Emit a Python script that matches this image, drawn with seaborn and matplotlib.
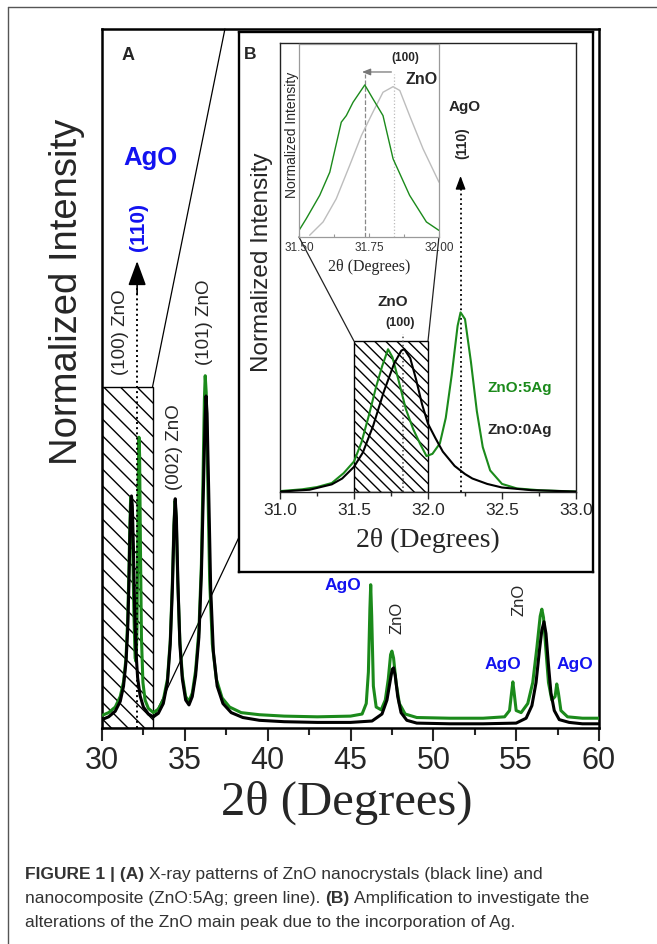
import matplotlib
matplotlib.use('Agg')
import matplotlib.pyplot as plt
import seaborn as sns
from matplotlib.patches import Rectangle
from matplotlib.lines import Line2D

# ---------------- data ----------------
# panel A, full pattern (2theta in degrees, normalized intensity)
a_theta_black = [30.0, 30.4, 30.8, 31.1, 31.3, 31.45, 31.55, 31.62, 31.68, 31.74, 31.78, 31.83, 31.9, 31.97,
                 32.05, 32.15, 32.3, 32.5, 32.8, 33.1, 33.4, 33.7, 33.95, 34.12, 34.25, 34.35, 34.42, 34.49,
                 34.58, 34.7, 34.85, 35.05, 35.25, 35.45, 35.65, 35.85, 36.0, 36.12, 36.22, 36.28, 36.34,
                 36.44, 36.56, 36.72, 36.95, 37.3, 37.8, 38.5, 39.5, 41.0, 43.0, 45.0, 46.3, 46.9, 47.2,
                 47.4, 47.52, 47.6, 47.7, 47.85, 48.05, 48.4, 49.0, 51.0, 53.0, 55.0, 55.6, 55.95, 56.2,
                 56.4, 56.55, 56.68, 56.8, 56.95, 57.1, 57.3, 57.6, 58.2, 59.0, 60.0]
a_int_black = [0.012, 0.016, 0.024, 0.038, 0.06, 0.095, 0.14, 0.2, 0.27, 0.318, 0.332, 0.318, 0.255, 0.17,
               0.11, 0.072, 0.046, 0.03, 0.02, 0.016, 0.021, 0.035, 0.065, 0.12, 0.2, 0.29, 0.328, 0.3,
               0.21, 0.12, 0.07, 0.04, 0.033, 0.045, 0.075, 0.13, 0.22, 0.34, 0.44, 0.475, 0.45,
               0.34, 0.2, 0.11, 0.06, 0.035, 0.022, 0.015, 0.011, 0.009, 0.008, 0.008, 0.01, 0.02, 0.04,
               0.068, 0.084, 0.086, 0.075, 0.045, 0.022, 0.011, 0.007, 0.006, 0.006, 0.007, 0.014, 0.032, 0.065,
               0.11, 0.14, 0.152, 0.135, 0.09, 0.05, 0.025, 0.012, 0.008, 0.006, 0.006]

a_theta_green = [30.0, 30.4, 30.8, 31.1, 31.3, 31.45, 31.55, 31.62, 31.68, 31.73, 31.78, 31.85, 31.93, 32.0,
                 32.06, 32.11, 32.16, 32.2, 32.23, 32.27, 32.32, 32.38, 32.47, 32.6, 32.8, 33.1, 33.4, 33.7,
                 33.95, 34.12, 34.25, 34.34, 34.41, 34.48, 34.57, 34.7, 34.85, 35.05, 35.25, 35.45, 35.65,
                 35.85, 36.0, 36.1, 36.18, 36.23, 36.29, 36.38, 36.5, 36.66, 36.9, 37.25, 37.7, 38.4, 39.5,
                 41.0, 43.0, 45.0, 45.7, 45.95, 46.08, 46.17, 46.22, 46.28, 46.38, 46.55, 46.85, 47.1, 47.28,
                 47.42, 47.5, 47.6, 47.75, 47.95, 48.3, 49.0, 51.0, 53.0, 54.3, 54.6, 54.72, 54.8, 54.88,
                 55.0, 55.3, 55.7, 56.0, 56.25, 56.45, 56.55, 56.65, 56.8, 56.95, 57.15, 57.35, 57.45, 57.55,
                 57.7, 58.1, 59.0, 60.0]
a_int_green = [0.018, 0.022, 0.03, 0.045, 0.066, 0.1, 0.155, 0.22, 0.29, 0.33, 0.322, 0.26, 0.16, 0.1,
               0.095, 0.14, 0.27, 0.38, 0.416, 0.39, 0.26, 0.13, 0.065, 0.04, 0.028, 0.022, 0.027, 0.04,
               0.07, 0.125, 0.21, 0.29, 0.325, 0.3, 0.21, 0.125, 0.075, 0.045, 0.038, 0.05, 0.082,
               0.14, 0.235, 0.36, 0.47, 0.504, 0.48, 0.36, 0.21, 0.12, 0.07, 0.043, 0.03, 0.022, 0.019,
               0.017, 0.016, 0.017, 0.02, 0.035, 0.08, 0.17, 0.205, 0.16, 0.06, 0.03, 0.026, 0.04, 0.07,
               0.105, 0.11, 0.1, 0.065, 0.035, 0.02, 0.015, 0.014, 0.014, 0.016, 0.025, 0.05, 0.066, 0.05,
               0.025, 0.022, 0.035, 0.065, 0.115, 0.16, 0.17, 0.158, 0.11, 0.065, 0.04, 0.045, 0.063, 0.05,
               0.025, 0.016, 0.014, 0.014]

# panel B, zoom 31-33 deg
b_theta_green = [31.0, 31.15, 31.25, 31.35, 31.43, 31.5, 31.55, 31.6, 31.65, 31.69, 31.73, 31.76, 31.8, 31.85,
                 31.9, 31.95, 31.99, 32.03, 32.08, 32.12, 32.16, 32.2, 32.22, 32.25, 32.29, 32.33, 32.37,
                 32.42, 32.5, 32.6, 32.75, 33.0]
b_int_green = [0.002, 0.006, 0.011, 0.02, 0.042, 0.068, 0.11, 0.17, 0.235, 0.28, 0.318, 0.3, 0.25, 0.185,
               0.14, 0.105, 0.08, 0.085, 0.108, 0.165, 0.26, 0.37, 0.4, 0.385, 0.29, 0.18, 0.1,
               0.048, 0.018, 0.008, 0.004, 0.001]
b_theta_black = [31.0, 31.2, 31.35, 31.42, 31.5, 31.56, 31.63, 31.7, 31.77, 31.82, 31.84, 31.88, 31.92, 31.96,
                 32.0, 32.05, 32.1, 32.18, 32.25, 32.3, 32.4, 32.5, 32.7, 33.0]
b_int_black = [0.001, 0.005, 0.017, 0.03, 0.056, 0.088, 0.148, 0.222, 0.285, 0.315, 0.318, 0.298, 0.25, 0.195,
               0.152, 0.12, 0.09, 0.058, 0.04, 0.03, 0.018, 0.01, 0.004, 0.001]

# small inset inside B, (100) peak 31.50-32.00 deg
m_theta_green = [31.5, 31.526, 31.574, 31.61, 31.651, 31.669, 31.693, 31.735, 31.764, 31.8, 31.836, 31.895,
                 31.955, 32.0]
m_int_green = [0.034, 0.095, 0.216, 0.336, 0.595, 0.629, 0.698, 0.788, 0.716, 0.629, 0.405, 0.216,
               0.078, 0.034]
m_theta_gray = [31.538, 31.586, 31.633, 31.681, 31.723, 31.764, 31.8, 31.836, 31.86, 31.895, 31.943, 32.0]
m_int_gray = [0.009, 0.078, 0.198, 0.371, 0.526, 0.647, 0.75, 0.779, 0.759, 0.629, 0.457, 0.284]

a_ticks = [30, 35, 40, 45, 50, 55, 60]
a_minor = [32.5, 37.5, 42.5, 47.5, 52.5, 57.5]
b_ticks = [31.0, 31.5, 32.0, 32.5, 33.0]
b_minor = [31.25, 31.75, 32.25, 32.75]
m_ticks = [31.50, 31.75, 32.00]
m_minor = [31.625, 31.875]

caption_lines = [
    [("FIGURE 1 | (A)", True), ("X-ray patterns of ZnO nanocrystals (black line) and", False)],
    [("nanocomposite (ZnO:5Ag; green line).", False), ("(B)", True), ("Amplification to investigate the", False)],
    [("alterations of the ZnO main peak due to the incorporation of Ag.", False)],
]

GREEN = '#1b8a1b'
BLUE = '#1212f0'
W, H = 657, 945

sns.set_style('white')
plt.rcParams['font.family'] = ['Liberation Sans', 'DejaVu Sans']
SERIF = ['Liberation Serif', 'DejaVu Serif']


def fx(px):
    return px / W


def fy(py):
    return 1 - py / H


fig = plt.figure(figsize=(W / 100, H / 100), dpi=100)
fig.patch.set_facecolor('white')

##################################
# panel A
ax = fig.add_axes([fx(102), fy(729), (599 - 102) / W, (729 - 30) / H])
ax.add_patch(Rectangle((30, 0), 3.05, 0.488, facecolor='none', edgecolor='black',
                       hatch='\\\\', lw=1.0, zorder=1))
sns.lineplot(x=a_theta_green, y=a_int_green, ax=ax, color=GREEN, lw=2.2, sort=False, estimator=None, zorder=3)
sns.lineplot(x=a_theta_black, y=a_int_black, ax=ax, color='black', lw=2.2, sort=False, estimator=None, zorder=4)
ax.set_xlim(30, 60)
ax.set_ylim(0, 1)
ax.set_xticks(a_ticks)
ax.set_xticks(a_minor, minor=True)
ax.set_yticks([])
ax.tick_params(axis='x', which='major', direction='out', length=9, width=1.5, labelsize=22, pad=3,
               bottom=True)
ax.tick_params(axis='x', which='minor', direction='out', length=5, width=1.5, bottom=True)
for s in ax.spines.values():
    s.set_linewidth(1.8)
    s.set_color('black')

# zoom guide lines towards panel B
ax.plot([33.05, 37.42], [0.488, 1.0], color='black', lw=0.9, clip_on=False, zorder=2)
ax.plot([33.08, 38.27], [0.013, 0.273], color='black', lw=0.9, zorder=2)

# AgO (110) arrow
ax.plot([32.12, 32.12], [0, 0.64], ls=':', color='black', lw=1.4, zorder=5)
ax.annotate('', xy=(32.12, 0.668), xytext=(32.12, 0.62),
            arrowprops=dict(arrowstyle='-|>,head_length=1.5,head_width=0.55', color='black', lw=1.2,
                            shrinkA=0, shrinkB=0))

ax.text(31.57, 0.964, 'A', fontsize=13, fontweight='bold', ha='center', va='center')
ax.text(32.9, 0.817, 'AgO', fontsize=18.5, fontweight='bold', color=BLUE, ha='center', va='center')
ax.text(32.23, 0.718, '(110)', fontsize=15, fontweight='bold', color=BLUE, rotation=90, ha='center', va='center')
ax.text(31.09, 0.567, '(100) ZnO', fontsize=13.5, rotation=90, ha='center', va='center')
ax.text(36.16, 0.582, '(101) ZnO', fontsize=13.5, rotation=90, ha='center', va='center')
ax.text(34.35, 0.403, '(002) ZnO', fontsize=13.5, rotation=90, ha='center', va='center')
ax.text(44.55, 0.206, 'AgO', fontsize=12.5, fontweight='bold', color=BLUE, ha='center', va='center')
ax.text(47.8, 0.159, 'ZnO', fontsize=12, rotation=90, ha='center', va='center')
ax.text(54.23, 0.092, 'AgO', fontsize=12.5, fontweight='bold', color=BLUE, ha='center', va='center')
ax.text(55.17, 0.185, 'ZnO', fontsize=12, rotation=90, ha='center', va='center')
ax.text(58.55, 0.092, 'AgO', fontsize=12.5, fontweight='bold', color=BLUE, ha='center', va='center')

ax.text((347 - 102) / 497, (729 - 803) / 699, '2θ (Degrees)', transform=ax.transAxes, fontsize=35,
        family=SERIF, ha='center', va='center')
ax.text((67 - 102) / 497, (729 - 292) / 699, 'Normalized Intensity', transform=ax.transAxes, fontsize=27.5,
        rotation=90, ha='center', va='center')

##################################
# panel B frame and axes
frame = fig.add_axes([fx(239), fy(573), (593 - 239) / W, (573 - 33) / H])
frame.set_xticks([])
frame.set_yticks([])
frame.set_facecolor('white')
for s in frame.spines.values():
    s.set_linewidth(1.7)
    s.set_color('black')

bx = fig.add_axes([fx(280), fy(493), (576 - 280) / W, (493 - 44) / H])
bx.set_facecolor('white')
bx.add_patch(Rectangle((31.5, 0), 0.5, 0.336, facecolor='none', edgecolor='black',
                       hatch='\\\\\\', lw=1.0, zorder=1))
sns.lineplot(x=b_theta_green, y=b_int_green, ax=bx, color=GREEN, lw=1.5, sort=False, estimator=None, zorder=3)
sns.lineplot(x=b_theta_black, y=b_int_black, ax=bx, color='black', lw=1.5, sort=False, estimator=None, zorder=4)
bx.set_xlim(31, 33)
bx.set_ylim(0, 1)
bx.set_xticks(b_ticks)
bx.set_xticklabels([f'{t:.1f}' for t in b_ticks])
bx.set_xticks(b_minor, minor=True)
bx.set_yticks([])
bx.tick_params(axis='x', which='major', direction='out', length=5, width=1.0, labelsize=12.5, pad=2, bottom=True)
bx.tick_params(axis='x', which='minor', direction='out', length=3, width=1.0, bottom=True)
for s in bx.spines.values():
    s.set_linewidth(1.0)
    s.set_color('#222222')

bx.plot([31.83, 31.83], [0, 0.352], ls=':', color='#444444', lw=1.1, zorder=2)
bx.plot([32.22, 32.22], [0, 0.68], ls=':', color='black', lw=1.3, zorder=2)
bx.annotate('', xy=(32.22, 0.704), xytext=(32.22, 0.675),
            arrowprops=dict(arrowstyle='-|>,head_length=0.8,head_width=0.3', color='black', lw=1.0,
                            shrinkA=0, shrinkB=0))
bx.plot([31.128, 31.5], [0.568, 0.336], color='#222222', lw=0.9, clip_on=False)
bx.plot([32.074, 32.0], [0.568, 0.336], color='#222222', lw=0.9, clip_on=False)

bx.text(32.25, 0.86, 'AgO', fontsize=11, fontweight='bold', ha='center', va='center')
bx.text(32.23, 0.78, '(110)', fontsize=10, fontweight='bold', rotation=90, ha='center', va='center')
bx.text(31.76, 0.425, 'ZnO', fontsize=11, fontweight='bold', ha='center', va='center')
bx.text(31.81, 0.379, '(100)', fontsize=9, fontweight='bold', ha='center', va='center')
bx.text(32.62, 0.234, 'ZnO:5Ag', fontsize=11, fontweight='bold', color=GREEN, ha='center', va='center')
bx.text(32.62, 0.14, 'ZnO:0Ag', fontsize=11, fontweight='bold', ha='center', va='center')
bx.text(0.5, (493 - 540) / 449, '2θ (Degrees)', transform=bx.transAxes, fontsize=20, family=SERIF,
        ha='center', va='center')
bx.text((262 - 280) / 296, (493 - 262) / 449, 'Normalized Intensity', transform=bx.transAxes, fontsize=17.5,
        rotation=90, ha='center', va='center')
fig.text(fx(250), fy(55), 'B', fontsize=12.5, fontweight='bold', ha='center', va='center')

##################################
# small inset inside B
mx = fig.add_axes([fx(299), fy(238), (439 - 299) / W, (238 - 45) / H])
mx.set_facecolor('white')
mx.plot([31.735, 31.735], [0, 0.845], ls='--', color='#888888', lw=0.9)
mx.plot([31.84, 31.84], [0, 0.845], ls=':', color='#bbbbbb', lw=0.9)
sns.lineplot(x=m_theta_gray, y=m_int_gray, ax=mx, color='#bdbdbd', lw=1.0, sort=False, estimator=None)
sns.lineplot(x=m_theta_green, y=m_int_green, ax=mx, color=GREEN, lw=1.0, sort=False, estimator=None)
mx.annotate('', xy=(31.725, 0.855), xytext=(31.83, 0.855),
            arrowprops=dict(arrowstyle='-|>,head_length=0.5,head_width=0.2', color='#777777', lw=0.9,
                            shrinkA=0, shrinkB=0))
mx.set_xlim(31.5, 32.0)
mx.set_ylim(0, 1)
mx.set_xticks(m_ticks)
mx.set_xticklabels([f'{t:.2f}' for t in m_ticks])
mx.set_xticks(m_minor, minor=True)
mx.set_yticks([])
mx.tick_params(axis='x', which='major', direction='in', length=3, width=0.8, color='#999999',
               labelsize=8.5, labelcolor='#333333', pad=3, bottom=True)
mx.tick_params(axis='x', which='minor', direction='in', length=2, width=0.8, color='#999999', bottom=True)
for s in mx.spines.values():
    s.set_linewidth(0.9)
    s.set_color('#9a9a9a')
mx.text(31.879, 0.933, '(100)', fontsize=8.5, fontweight='bold', ha='center', va='center')
mx.text(31.936, 0.819, 'ZnO', fontsize=11.5, fontweight='bold', ha='center', va='center')
mx.text(0.5, (238 - 267) / 193, '2θ (Degrees)', transform=mx.transAxes, fontsize=11.5, family=SERIF,
        ha='center', va='center')
mx.text((292 - 299) / 140, (238 - 135) / 193, 'Normalized Intensity', transform=mx.transAxes, fontsize=10,
        rotation=90, ha='center', va='center')

##################################
# page frame and caption
fig.add_artist(Line2D([fx(8), fx(8)], [fy(8), 0], transform=fig.transFigure, color='#555555', lw=1.0))
fig.add_artist(Line2D([fx(8), 1], [fy(8), fy(8)], transform=fig.transFigure, color='#555555', lw=1.0))

renderer = fig.canvas.get_renderer()
space_px = 4.6
for i, runs in enumerate(caption_lines):
    x = 25
    for txt, bold in runs:
        t = fig.text(fx(x), fy(875 + 24 * i), txt, fontsize=12.5, fontweight='bold' if bold else 'normal',
                     color='#333333', ha='left', va='center')
        bb = t.get_window_extent(renderer=renderer)
        x = bb.x1 + space_px

fig.savefig('out.png', dpi=100, facecolor='white')
